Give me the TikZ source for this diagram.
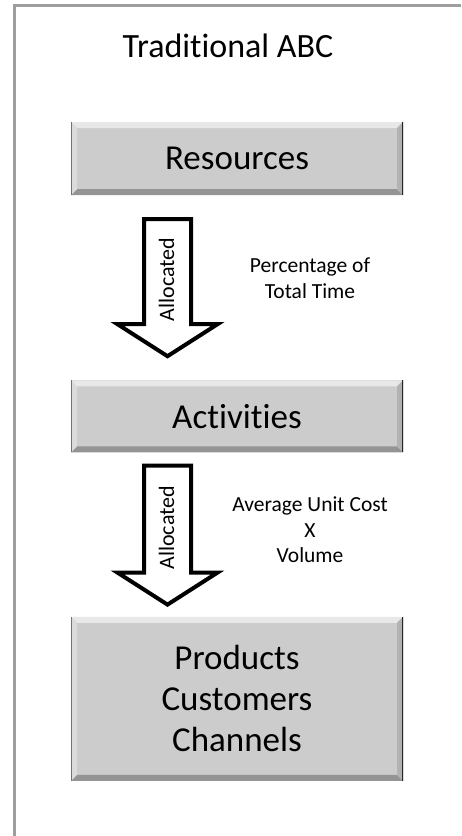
\documentclass[tikz,border=0pt]{standalone}
\usepackage{fontspec}
\setmainfont{Carlito}[Ligatures=NoCommon]
\usetikzlibrary{positioning, calc}

\begin{document}
\begin{tikzpicture}[x=1pt, y=1pt,
stage/.style={rectangle, fill=black!20, minimum width=332pt, inner sep=0pt, align=center,
  font=\fontsize{35}{41}\selectfont,
  path picture={
    \fill[black!9] (path picture bounding box.north west) -- (path picture bounding box.north east)
      -- ([xshift=-6pt,yshift=-6pt]path picture bounding box.north east) -- ([xshift=6pt,yshift=-6pt]path picture bounding box.north west) -- cycle;
    \fill[black!42] (path picture bounding box.south west) -- (path picture bounding box.south east)
      -- ([xshift=-6pt,yshift=6pt]path picture bounding box.south east) -- ([xshift=6pt,yshift=6pt]path picture bounding box.south west) -- cycle;
    \fill[black!30] (path picture bounding box.north east) -- (path picture bounding box.south east)
      -- ([xshift=-6pt,yshift=6pt]path picture bounding box.south east) -- ([xshift=-6pt,yshift=-6pt]path picture bounding box.north east) -- cycle;
    \fill[black!14] (path picture bounding box.north west) -- (path picture bounding box.south west)
      -- ([xshift=6pt,yshift=6pt]path picture bounding box.south west) -- ([xshift=6pt,yshift=-6pt]path picture bounding box.north west) -- cycle;
    \draw[black!85, line width=2pt] (path picture bounding box.north east) -- (path picture bounding box.south east);
    \draw[black!55, line width=1pt] (path picture bounding box.north west) -- (path picture bounding box.south west);
  }},
flow/.style={draw=black, line width=4pt, fill=white, line join=miter},
note/.style={align=center, inner sep=0pt, font=\fontsize{21.5}{25.5}\selectfont},
tag/.style={rotate=90, anchor=west, inner sep=0pt, font=\fontsize{22}{24}\selectfont}
]
\useasboundingbox (0,0) rectangle (461,-836);

%Frame
\draw[black!38, line width=3pt] (14,-836) -- (14,-5) -- (461,-5);

%Nodes
\node[anchor=base, font=\fontsize{34}{40}\selectfont] (title) at (228,-57) {Traditional ABC};

\node[stage, minimum height=73pt]  (Res)  at (237,-158.5)      {Resources};
\node[stage, minimum height=72pt]  (Act)  [below=185pt of Res] {Activities};
\node[stage, minimum height=164pt] (Prod) [below=164pt of Act] {Products\\Customers\\Channels};

\node[note] (rate1) at (310,-278) {Percentage of\\Total Time};
\node[note] (rate2) at (310,-530) {Average Unit Cost\\X\\Volume};

%Arrows
\coordinate (A1s) at ($(Res.south)+(-69.5,-24)$);
\coordinate (A1e) at ($(Act.north)+(-69.5,24)$);
\coordinate (A2s) at ($(Act.south)+(-69.5,-13)$);
\coordinate (A2e) at ($(Prod.north)+(-69.5,12)$);

\draw[flow] ($(A1s)+(-23.5,0)$) -- ($(A1s)+(23.5,0)$) -- ($(A1e)+(23.5,32)$) -- ($(A1e)+(50,32)$)
  -- (A1e) -- ($(A1e)+(-50,32)$) -- ($(A1e)+(-23.5,32)$) -- cycle;
\draw[flow] ($(A2s)+(-23.5,0)$) -- ($(A2s)+(23.5,0)$) -- ($(A2e)+(23.5,32)$) -- ($(A2e)+(50,32)$)
  -- (A2e) -- ($(A2e)+(-50,32)$) -- ($(A2e)+(-23.5,32)$) -- cycle;

\node[tag] (alloc1) at ($(A1e)+(-1,35)$) {Allocated};
\node[tag] (alloc2) at ($(A2e)+(-1,35)$) {Allocated};
\end{tikzpicture}
\end{document}
